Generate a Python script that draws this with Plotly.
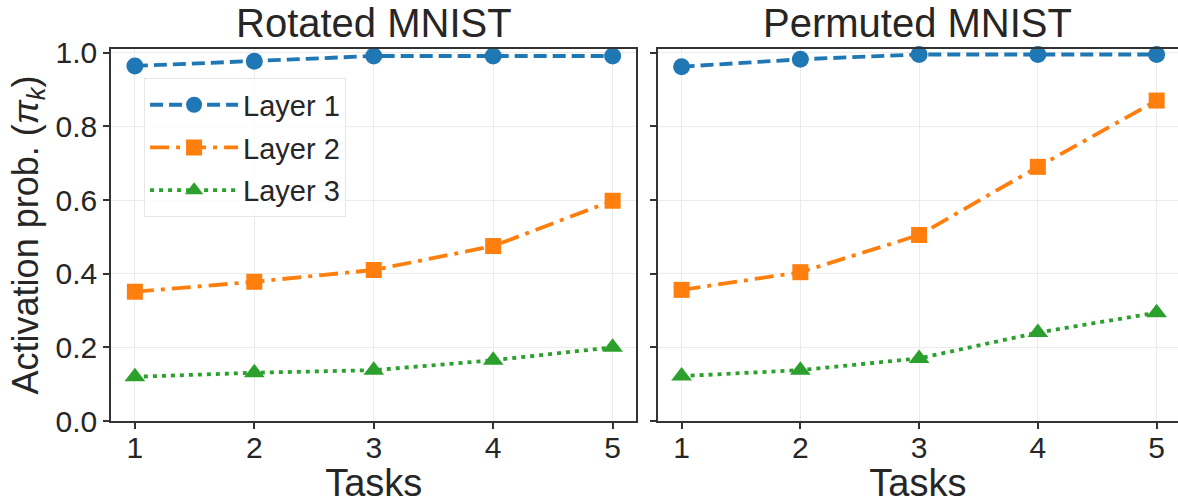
import plotly.graph_objects as go

tasks = [1, 2, 3, 4, 5]
tick_labels = ["1", "2", "3", "4", "5"]

rot_layer1 = [0.964, 0.977, 0.991, 0.991, 0.991]
rot_layer2 = [0.351, 0.378, 0.410, 0.475, 0.598]
rot_layer3 = [0.120, 0.131, 0.138, 0.165, 0.200]

perm_layer1 = [0.962, 0.982, 0.995, 0.995, 0.995]
perm_layer2 = [0.356, 0.404, 0.505, 0.690, 0.870]
perm_layer3 = [0.122, 0.138, 0.170, 0.240, 0.294]

names = ["Layer 1", "Layer 2", "Layer 3"]
colors = ["#1f77b4", "#ff7f0e", "#2ca02c"]
symbols = ["circle", "square", "triangle-up"]
msizes = [17, 16, 18]
dashes = ["13px,6px", "19px,7px,4px,7px", "4px,5px"]

FONT = "Liberation Sans, Arial, sans-serif"
TXT = "#262626"

fig = go.Figure()
panels = [(rot_layer1, rot_layer2, rot_layer3), (perm_layer1, perm_layer2, perm_layer3)]
for p, series in enumerate(panels):
    xa = "x" if p == 0 else "x2"
    ya = "y" if p == 0 else "y2"
    for i, vals in enumerate(series):
        fig.add_trace(go.Scatter(
            x=tasks, y=vals, name=names[i], mode="lines+markers",
            xaxis=xa, yaxis=ya, legendgroup=names[i], showlegend=(p == 0),
            line=dict(color=colors[i], width=3.8, dash=dashes[i]),
            marker=dict(symbol=symbols[i], size=msizes[i], color=colors[i], line=dict(width=0)),
            cliponaxis=False,
        ))

axis_common = dict(
    showline=True, linecolor="#333333", linewidth=1.5,
    showgrid=True, gridcolor="#ebebeb", gridwidth=1,
    ticks="outside", ticklen=6, tickwidth=1.5, tickcolor="#333333",
    tickfont=dict(family=FONT, size=30, color=TXT),
    zeroline=False,
)

fig.update_layout(
    width=1178, height=504,
    margin=dict(l=111, r=0, t=49, b=83),
    plot_bgcolor="white", paper_bgcolor="white",
    font=dict(family=FONT, color=TXT),
    xaxis=dict(domain=[0.0, 0.4925], range=[0.8, 5.2], tickvals=tasks, ticktext=tick_labels,
               mirror=True, anchor="y", ticklabelstandoff=-7,
               title=dict(text="Tasks", font=dict(family=FONT, size=38, color=TXT), standoff=13),
               **axis_common),
    xaxis2=dict(domain=[0.5125, 1.0], range=[0.8, 5.18], tickvals=tasks, ticktext=tick_labels,
                mirror=True, anchor="y2", ticklabelstandoff=-7,
                title=dict(text="Tasks", font=dict(family=FONT, size=38, color=TXT), standoff=13),
                **axis_common),
    yaxis=dict(domain=[0, 1], range=[0, 1.01], tickvals=[0, 0.2, 0.4, 0.6, 0.8, 1.0],
               tickformat=".1f", mirror=True, anchor="x",
               title=dict(text="Activation prob. (<i>π</i><sub><i>k</i></sub>)",
                          font=dict(family=FONT, size=36, color=TXT), standoff=6),
               **axis_common),
    yaxis2=dict(domain=[0, 1], range=[0, 1.01], tickvals=[0, 0.2, 0.4, 0.6, 0.8, 1.0],
                showticklabels=False, mirror=False, anchor="x2", matches="y",
                **axis_common),
    legend=dict(x=0.031, y=0.921, xanchor="left", yanchor="top",
                bgcolor="rgba(255,255,255,0.8)", bordercolor="#e6e6e6", borderwidth=1,
                font=dict(family=FONT, size=29, color=TXT), tracegroupgap=2,
                itemwidth=88),
    annotations=[
        dict(text="Rotated MNIST", x=0.24625, y=1.0 + (49 - 23) / 372.0, xref="paper", yref="paper",
             xanchor="center", yanchor="middle", showarrow=False,
             font=dict(family=FONT, size=40, color=TXT)),
        dict(text="Permuted MNIST", x=0.75625, y=1.0 + (49 - 23) / 372.0, xref="paper", yref="paper",
             xanchor="center", yanchor="middle", showarrow=False,
             font=dict(family=FONT, size=40, color=TXT)),
    ],
)

fig.write_html("out.html")
